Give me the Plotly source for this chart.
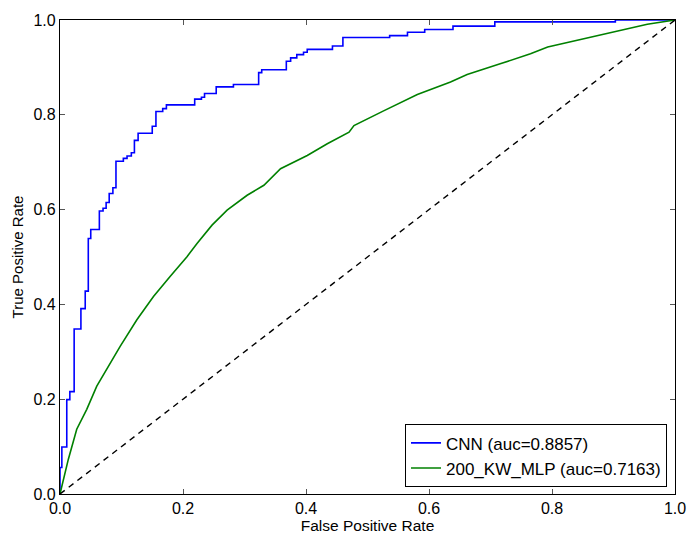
import plotly.graph_objects as go

# CNN ROC (step curve): jump x, y after jump
cnn_fpr = [0.0, 0.0, 0.003, 0.011, 0.016, 0.023, 0.034, 0.041, 0.046, 0.050, 0.064, 0.070,
           0.075, 0.080, 0.086, 0.091, 0.103, 0.109, 0.116, 0.121, 0.127, 0.150, 0.156,
           0.167, 0.173, 0.219, 0.230, 0.235, 0.254, 0.282, 0.323, 0.328, 0.368, 0.375,
           0.385, 0.396, 0.402, 0.443, 0.460, 0.536, 0.565, 0.593, 0.639, 0.707, 0.903, 1.0]
cnn_tpr = [0.0, 0.056, 0.099, 0.199, 0.216, 0.348, 0.391, 0.428, 0.539, 0.558, 0.597, 0.603,
           0.615, 0.634, 0.646, 0.702, 0.708, 0.713, 0.720, 0.746, 0.761, 0.776, 0.807,
           0.813, 0.821, 0.833, 0.837, 0.845, 0.859, 0.864, 0.889, 0.895, 0.913, 0.920,
           0.927, 0.932, 0.938, 0.945, 0.963, 0.967, 0.974, 0.980, 0.987, 0.996, 1.0, 1.0]

# 200_KW_MLP ROC (smooth)
mlp_fpr = [0.0, 0.0136, 0.0272, 0.0435, 0.0598, 0.0788, 0.0978, 0.125, 0.152, 0.179, 0.2065,
           0.2228, 0.2472, 0.2717, 0.3043, 0.3315, 0.3586, 0.402, 0.4346, 0.470, 0.478, 0.527,
           0.581, 0.635, 0.662, 0.717, 0.765, 0.793, 0.847, 0.901, 0.955, 1.0]
mlp_tpr = [0.0, 0.0735, 0.1366, 0.1786, 0.2276, 0.2696, 0.3116, 0.3676, 0.4167, 0.4587, 0.5007,
           0.5287, 0.5672, 0.5987, 0.6303, 0.6513, 0.6863, 0.7143, 0.7388, 0.7633, 0.7773, 0.8088,
           0.843, 0.869, 0.885, 0.908, 0.929, 0.943, 0.959, 0.975, 0.991, 1.0]

chance = [0.0, 1.0]
tick_vals = [0.0, 0.2, 0.4, 0.6, 0.8, 1.0]
tick_text = ["0.0", "0.2", "0.4", "0.6", "0.8", "1.0"]

fig = go.Figure()
fig.add_trace(go.Scatter(x=cnn_fpr, y=cnn_tpr, mode="lines", line=dict(color="#0000ff", width=1.6, shape="hv"),
                         name="CNN (auc=0.8857)"))
fig.add_trace(go.Scatter(x=mlp_fpr, y=mlp_tpr, mode="lines", line=dict(color="#008000", width=1.6),
                         name="200_KW_MLP (auc=0.7163)"))
fig.add_trace(go.Scatter(x=chance, y=chance, mode="lines", line=dict(color="black", width=1.4, dash="6px,5px"),
                         showlegend=False))

axis_common = dict(range=[0, 1], tickvals=tick_vals, ticktext=tick_text, ticks="inside", ticklen=5,
                   tickcolor="#555", showline=True, linecolor="black", linewidth=1.3, mirror="ticks",
                   showgrid=False, zeroline=False, automargin=False,
                   tickfont=dict(size=16, color="black"))

fig.update_layout(
    width=687, height=534,
    margin=dict(l=60, r=12, t=20, b=40),
    plot_bgcolor="white", paper_bgcolor="white",
    font=dict(family="Liberation Sans, Arial, sans-serif", color="black"),
    xaxis=dict(**axis_common, title=dict(text="False Positive Rate", font=dict(size=15.5), standoff=11)),
    yaxis=dict(**axis_common, title=dict(text="True Positive Rate", font=dict(size=15), standoff=6)),
    legend=dict(x=0.987, y=0.014, xanchor="right", yanchor="bottom", bordercolor="black", borderwidth=1,
                bgcolor="white", font=dict(size=17), tracegroupgap=0),
)

fig.write_html("out.html")
